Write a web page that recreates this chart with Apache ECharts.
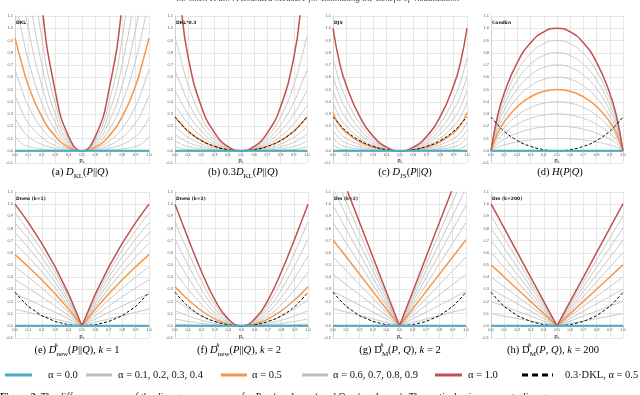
<!DOCTYPE html>
<html>
<head>
<meta charset="utf-8">
<script src="https://cdn.jsdelivr.net/npm/echarts@6/dist/echarts.min.js"></script>
<style>
html, body { margin: 0; padding: 0; background: #fff; }
#main { width: 640px; height: 395px; }
</style>
</head>
<body>
<div id="main"></div>
<script>
// p1 values used for every panel
var p1 = [0, 0.05, 0.1, 0.2, 0.3, 0.4, 0.5, 0.6, 0.7, 0.8, 0.9, 0.95, 1];
var alphas = ['0.0', '0.1', '0.2', '0.3', '0.4', '0.5', '0.6', '0.7', '0.8', '0.9', '1.0'];
var flat = [0, 0, 0, 0, 0, 0, 0, 0, 0, 0, 0, 0, 0];

// 0.3*DKL at alpha = 0.5 (dashed reference)
var refDkl = [0.276, 0.214, 0.159, 0.083, 0.036, 0.009, 0, 0.009, 0.036, 0.083, 0.159, 0.214, 0.276];

// (a) DKL, one row per alpha
var dkl = [
    flat,
    [0.115, 0.062, 0.036, 0.014, 0.005, 0.001, 0, 0.001, 0.005, 0.014, 0.036, 0.062, 0.115],
    [0.271, 0.178, 0.116, 0.052, 0.020, 0.005, 0, 0.005, 0.020, 0.052, 0.116, 0.178, 0.271],
    [0.454, 0.324, 0.226, 0.109, 0.044, 0.011, 0, 0.011, 0.044, 0.109, 0.226, 0.324, 0.454],
    [0.667, 0.501, 0.364, 0.184, 0.077, 0.019, 0, 0.019, 0.077, 0.184, 0.364, 0.501, 0.667],
    [0.919, 0.714, 0.531, 0.278, 0.119, 0.029, 0, 0.029, 0.119, 0.278, 0.531, 0.714, 0.919],
    [1.228, 0.974, 0.736, 0.393, 0.170, 0.042, 0, 0.042, 0.170, 0.393, 0.736, 0.974, 1.228],
    [1.625, 1.303, 0.992, 0.533, 0.231, 0.057, 0, 0.057, 0.231, 0.533, 0.992, 1.303, 1.625],
    [2.180, 1.747, 1.324, 0.704, 0.303, 0.074, 0, 0.074, 0.303, 0.704, 1.324, 1.747, 2.180],
    [3.100, 2.419, 1.786, 0.920, 0.388, 0.094, 0, 0.094, 0.388, 0.920, 1.786, 2.419, 3.100],
    [6.500, 3.823, 2.536, 1.200, 0.489, 0.117, 0, 0.117, 0.489, 1.200, 2.536, 3.823, 6.500]
];

// (b) DKL*0.3
var dkl03 = [
    flat,
    [0.035, 0.019, 0.011, 0.004, 0.002, 0.000, 0, 0.000, 0.002, 0.004, 0.011, 0.019, 0.035],
    [0.081, 0.053, 0.035, 0.016, 0.006, 0.001, 0, 0.001, 0.006, 0.016, 0.035, 0.053, 0.081],
    [0.136, 0.097, 0.068, 0.033, 0.013, 0.003, 0, 0.003, 0.013, 0.033, 0.068, 0.097, 0.136],
    [0.200, 0.150, 0.109, 0.055, 0.023, 0.006, 0, 0.006, 0.023, 0.055, 0.109, 0.150, 0.200],
    [0.276, 0.214, 0.159, 0.083, 0.036, 0.009, 0, 0.009, 0.036, 0.083, 0.159, 0.214, 0.276],
    [0.368, 0.292, 0.221, 0.118, 0.051, 0.013, 0, 0.013, 0.051, 0.118, 0.221, 0.292, 0.368],
    [0.488, 0.391, 0.298, 0.160, 0.069, 0.017, 0, 0.017, 0.069, 0.160, 0.298, 0.391, 0.488],
    [0.654, 0.524, 0.397, 0.211, 0.091, 0.022, 0, 0.022, 0.091, 0.211, 0.397, 0.524, 0.654],
    [0.930, 0.726, 0.536, 0.276, 0.116, 0.028, 0, 0.028, 0.116, 0.276, 0.536, 0.726, 0.930],
    [1.950, 1.147, 0.761, 0.360, 0.147, 0.035, 0, 0.035, 0.147, 0.360, 0.761, 1.147, 1.950]
];

// (c) DJS
var djs = [
    flat,
    [0.052, 0.018, 0.010, 0.004, 0.001, 0.000, 0, 0.000, 0.001, 0.004, 0.010, 0.018, 0.052],
    [0.108, 0.052, 0.032, 0.014, 0.005, 0.001, 0, 0.001, 0.005, 0.014, 0.032, 0.052, 0.108],
    [0.169, 0.096, 0.063, 0.029, 0.011, 0.003, 0, 0.003, 0.011, 0.029, 0.063, 0.096, 0.169],
    [0.236, 0.147, 0.101, 0.049, 0.020, 0.005, 0, 0.005, 0.020, 0.049, 0.101, 0.147, 0.236],
    [0.311, 0.205, 0.147, 0.073, 0.030, 0.007, 0, 0.007, 0.030, 0.073, 0.147, 0.205, 0.311],
    [0.396, 0.273, 0.200, 0.102, 0.043, 0.011, 0, 0.011, 0.043, 0.102, 0.200, 0.273, 0.396],
    [0.493, 0.351, 0.261, 0.137, 0.058, 0.014, 0, 0.014, 0.058, 0.137, 0.261, 0.351, 0.493],
    [0.610, 0.444, 0.334, 0.176, 0.076, 0.019, 0, 0.019, 0.076, 0.176, 0.334, 0.444, 0.610],
    [0.758, 0.559, 0.421, 0.223, 0.096, 0.024, 0, 0.024, 0.096, 0.223, 0.421, 0.559, 0.758],
    [1.000, 0.714, 0.531, 0.278, 0.119, 0.029, 0, 0.029, 0.119, 0.278, 0.531, 0.714, 1.000]
];

// (d) CondEn
var condEn = [
    flat,
    [0, 0.029, 0.047, 0.072, 0.088, 0.097, 0.100, 0.097, 0.088, 0.072, 0.047, 0.029, 0],
    [0, 0.057, 0.094, 0.144, 0.176, 0.194, 0.200, 0.194, 0.176, 0.144, 0.094, 0.057, 0],
    [0, 0.086, 0.141, 0.217, 0.264, 0.291, 0.300, 0.291, 0.264, 0.217, 0.141, 0.086, 0],
    [0, 0.115, 0.188, 0.289, 0.353, 0.388, 0.400, 0.388, 0.353, 0.289, 0.188, 0.115, 0],
    [0, 0.143, 0.235, 0.361, 0.441, 0.486, 0.500, 0.486, 0.441, 0.361, 0.235, 0.143, 0],
    [0, 0.172, 0.281, 0.433, 0.529, 0.583, 0.600, 0.583, 0.529, 0.433, 0.281, 0.172, 0],
    [0, 0.200, 0.328, 0.505, 0.617, 0.680, 0.700, 0.680, 0.617, 0.505, 0.328, 0.200, 0],
    [0, 0.229, 0.375, 0.578, 0.705, 0.777, 0.800, 0.777, 0.705, 0.578, 0.375, 0.229, 0],
    [0, 0.258, 0.422, 0.650, 0.793, 0.874, 0.900, 0.874, 0.793, 0.650, 0.422, 0.258, 0],
    [0, 0.286, 0.469, 0.722, 0.881, 0.971, 1.000, 0.971, 0.881, 0.722, 0.469, 0.286, 0]
];

// (e) Dnew (k=1)
var dnewK1 = [
    flat,
    [0.138, 0.124, 0.111, 0.084, 0.057, 0.029, 0, 0.029, 0.057, 0.084, 0.111, 0.124, 0.138],
    [0.263, 0.239, 0.214, 0.163, 0.111, 0.057, 0, 0.057, 0.111, 0.163, 0.214, 0.239, 0.263],
    [0.379, 0.345, 0.310, 0.239, 0.163, 0.084, 0, 0.084, 0.163, 0.239, 0.310, 0.345, 0.379],
    [0.485, 0.444, 0.401, 0.310, 0.214, 0.111, 0, 0.111, 0.214, 0.310, 0.401, 0.444, 0.485],
    [0.585, 0.536, 0.485, 0.379, 0.263, 0.138, 0, 0.138, 0.263, 0.379, 0.485, 0.536, 0.585],
    [0.678, 0.623, 0.566, 0.444, 0.310, 0.163, 0, 0.163, 0.310, 0.444, 0.566, 0.623, 0.678],
    [0.766, 0.705, 0.642, 0.506, 0.356, 0.189, 0, 0.189, 0.356, 0.506, 0.642, 0.705, 0.766],
    [0.848, 0.782, 0.714, 0.566, 0.401, 0.214, 0, 0.214, 0.401, 0.566, 0.714, 0.782, 0.848],
    [0.926, 0.856, 0.782, 0.623, 0.444, 0.239, 0, 0.239, 0.444, 0.623, 0.782, 0.856, 0.926],
    [1.000, 0.926, 0.848, 0.678, 0.485, 0.263, 0, 0.263, 0.485, 0.678, 0.848, 0.926, 1.000]
];

// (f) Dnew (k=2)
var dnewK2 = [
    flat,
    [0.014, 0.012, 0.009, 0.005, 0.002, 0.001, 0, 0.001, 0.002, 0.005, 0.009, 0.012, 0.014],
    [0.057, 0.046, 0.036, 0.021, 0.009, 0.002, 0, 0.002, 0.009, 0.021, 0.036, 0.046, 0.057],
    [0.124, 0.102, 0.081, 0.046, 0.021, 0.005, 0, 0.005, 0.021, 0.046, 0.081, 0.102, 0.124],
    [0.214, 0.176, 0.141, 0.081, 0.036, 0.009, 0, 0.009, 0.036, 0.081, 0.141, 0.176, 0.214],
    [0.322, 0.266, 0.214, 0.124, 0.057, 0.014, 0, 0.014, 0.057, 0.124, 0.214, 0.266, 0.322],
    [0.444, 0.369, 0.299, 0.176, 0.081, 0.021, 0, 0.021, 0.081, 0.176, 0.299, 0.369, 0.444],
    [0.575, 0.482, 0.394, 0.234, 0.109, 0.028, 0, 0.028, 0.109, 0.234, 0.394, 0.482, 0.575],
    [0.713, 0.603, 0.495, 0.299, 0.141, 0.036, 0, 0.036, 0.141, 0.299, 0.495, 0.603, 0.713],
    [0.856, 0.728, 0.603, 0.369, 0.176, 0.046, 0, 0.046, 0.176, 0.369, 0.603, 0.728, 0.856],
    [1.000, 0.856, 0.714, 0.444, 0.214, 0.057, 0, 0.057, 0.214, 0.444, 0.714, 0.856, 1.000]
];

// (g) Dm (k=2)
var dmK2 = [
    flat,
    [0.141, 0.127, 0.113, 0.085, 0.057, 0.028, 0, 0.028, 0.057, 0.085, 0.113, 0.127, 0.141],
    [0.283, 0.255, 0.226, 0.170, 0.113, 0.057, 0, 0.057, 0.113, 0.170, 0.226, 0.255, 0.283],
    [0.424, 0.382, 0.339, 0.255, 0.170, 0.085, 0, 0.085, 0.170, 0.255, 0.339, 0.382, 0.424],
    [0.566, 0.509, 0.453, 0.339, 0.226, 0.113, 0, 0.113, 0.226, 0.339, 0.453, 0.509, 0.566],
    [0.707, 0.636, 0.566, 0.424, 0.283, 0.141, 0, 0.141, 0.283, 0.424, 0.566, 0.636, 0.707],
    [0.849, 0.764, 0.679, 0.509, 0.339, 0.170, 0, 0.170, 0.339, 0.509, 0.679, 0.764, 0.849],
    [0.990, 0.891, 0.792, 0.594, 0.396, 0.198, 0, 0.198, 0.396, 0.594, 0.792, 0.891, 0.990],
    [1.131, 1.018, 0.905, 0.679, 0.453, 0.226, 0, 0.226, 0.453, 0.679, 0.905, 1.018, 1.131],
    [1.273, 1.146, 1.018, 0.764, 0.509, 0.255, 0, 0.255, 0.509, 0.764, 1.018, 1.146, 1.273],
    [1.414, 1.273, 1.131, 0.849, 0.566, 0.283, 0, 0.283, 0.566, 0.849, 1.131, 1.273, 1.414]
];

// (h) Dm (k=200)
var dmK200 = [
    flat,
    [0.100, 0.090, 0.080, 0.060, 0.040, 0.020, 0, 0.020, 0.040, 0.060, 0.080, 0.090, 0.100],
    [0.201, 0.181, 0.161, 0.120, 0.080, 0.040, 0, 0.040, 0.080, 0.120, 0.161, 0.181, 0.201],
    [0.301, 0.271, 0.241, 0.181, 0.120, 0.060, 0, 0.060, 0.120, 0.181, 0.241, 0.271, 0.301],
    [0.401, 0.361, 0.321, 0.241, 0.161, 0.080, 0, 0.080, 0.161, 0.241, 0.321, 0.361, 0.401],
    [0.502, 0.452, 0.401, 0.301, 0.201, 0.100, 0, 0.100, 0.201, 0.301, 0.401, 0.452, 0.502],
    [0.602, 0.542, 0.482, 0.361, 0.241, 0.120, 0, 0.120, 0.241, 0.361, 0.482, 0.542, 0.602],
    [0.702, 0.632, 0.562, 0.421, 0.281, 0.140, 0, 0.140, 0.281, 0.421, 0.562, 0.632, 0.702],
    [0.803, 0.722, 0.642, 0.482, 0.321, 0.161, 0, 0.161, 0.321, 0.482, 0.642, 0.722, 0.803],
    [0.903, 0.813, 0.722, 0.542, 0.361, 0.181, 0, 0.181, 0.361, 0.542, 0.722, 0.813, 0.903],
    [1.003, 0.903, 0.803, 0.602, 0.401, 0.201, 0, 0.201, 0.401, 0.602, 0.803, 0.903, 1.003]
];

var panelNames = ['DKL', 'DKL*0.3', 'DJS', 'CondEn', 'Dnew (k=1)', 'Dnew (k=2)', 'Dm (k=2)', 'Dm (k=200)'];
var panelData = [dkl, dkl03, djs, condEn, dnewK1, dnewK2, dmK2, dmK200];
var panelSmooth = [true, true, true, true, false, true, false, false];
var panelRef = [false, true, true, true, true, true, true, true];

var captions = [
    '{n|(a) }{i|D}{sb|KL}{n|(}{i|P}{n|||}{i|Q}{n|)}',
    '{n|(b) 0.3}{i|D}{sb|KL}{n|(}{i|P}{n|||}{i|Q}{n|)}',
    '{n|(c) }{i|D}{sb|JS}{n|(}{i|P}{n|||}{i|Q}{n|)}',
    '{n|(d) }{i|H}{n|(}{i|P}{n||}{i|Q}{n|)}',
    '{n|(e) }{i|D}{sp|k}{sb|new}{n|(}{i|P}{n|||}{i|Q}{n|), }{i|k}{n| = 1}',
    '{n|(f) }{i|D}{sp|k}{sb|new}{n|(}{i|P}{n|||}{i|Q}{n|), }{i|k}{n| = 2}',
    '{n|(g) D}{sp|k}{sb|M}{n|(}{i|P}{n|, }{i|Q}{n|), }{i|k}{n| = 2}',
    '{n|(h) D}{sp|k}{sb|M}{n|(}{i|P}{n|, }{i|Q}{n|), }{i|k}{n| = 200}'
];

var legendItems = ['α = 0.0', 'α = 0.1, 0.2, 0.3, 0.4', 'α = 0.5', 'α = 0.6, 0.7, 0.8, 0.9', 'α = 1.0', '0.3·DKL, α = 0.5'];

// layout of the 8 small plots
var lefts = [15, 175, 333, 491, 15, 175, 333, 491];
var widths = [134, 132, 134, 132, 134, 133, 133, 132];
var capX = [80, 243, 405, 560, 77, 239, 400, 553];

var GRAY = '#c8c8c8', ORANGE = '#f79646', RED = '#c0504d', BLUE = '#4bacc6';

function fmt(v) {
    if (Math.abs(v) < 1e-9) v = 0;
    return v.toFixed(1);
}

var grids = [], xAxes = [], yAxes = [], series = [], graphics = [];
var serif = 'Liberation Serif, DejaVu Serif, serif';
var capRich = {
    n: { fontFamily: serif, fontSize: 10.5, color: '#111', lineHeight: 16 },
    i: { fontFamily: serif, fontSize: 10.5, fontStyle: 'italic', color: '#111', lineHeight: 16 },
    sb: { fontFamily: serif, fontSize: 7, color: '#111', lineHeight: 7, verticalAlign: 'bottom' },
    sp: { fontFamily: serif, fontSize: 7, fontStyle: 'italic', color: '#111', lineHeight: 7, verticalAlign: 'top', width: 0.1 }
};

panelData.forEach(function (rows, i) {
    var top = i < 4 ? 16 : 192;
    var h = i < 4 ? 147 : 146;
    grids.push({ left: lefts[i], top: top, width: widths[i], height: h });
    // x axis sits on the zero line, 0.1 units above the bottom of the plot
    xAxes.push({
        gridIndex: i, type: 'value', min: 0, max: 1, interval: 0.1,
        position: 'bottom', offset: -h / 12,
        axisLine: { onZero: false, lineStyle: { color: '#bfbfbf', width: 1 } },
        axisTick: { show: true, length: 2, lineStyle: { color: '#bfbfbf' } },
        axisLabel: { fontSize: 4, color: '#595959', margin: 2, formatter: fmt },
        splitLine: { lineStyle: { color: '#e6e6e6', width: 1 } },
        name: 'P₁', nameLocation: 'middle', nameGap: 9,
        nameTextStyle: { fontSize: 4.5, fontWeight: 'bold', color: '#404040' }
    });
    yAxes.push({
        gridIndex: i, type: 'value', min: -0.1, max: 1.1, interval: 0.1,
        axisLine: { show: true, onZero: false, lineStyle: { color: '#d0d0d0', width: 1 } },
        axisTick: { show: false },
        axisLabel: { fontSize: 4, color: '#595959', margin: 2, formatter: fmt },
        splitLine: { lineStyle: { color: '#e6e6e6', width: 1 } }
    });

    function addLine(vals, color, width, dash) {
        series.push({
            type: 'line', xAxisIndex: i, yAxisIndex: i,
            data: p1.map(function (x, j) { return [x, vals[j]]; }),
            symbol: 'none', smooth: panelSmooth[i], clip: true, silent: true,
            lineStyle: { color: color, width: width, type: dash ? [3, 2] : 'solid' }
        });
    }
    [1, 2, 3, 4, 6, 7, 8, 9].forEach(function (a) { addLine(rows[a], GRAY, 1); });
    addLine(rows[5], ORANGE, 1.5);
    addLine(rows[10], RED, 1.5);
    if (panelRef[i]) addLine(refDkl, '#000', 1, true);
    addLine(rows[0], BLUE, 2);

    graphics.push({
        type: 'text', left: lefts[i] + 1, top: top + 4.5, z: 10,
        style: { text: panelNames[i], fontSize: 4.5, fontWeight: 'bold', fill: '#262626', fontFamily: 'DejaVu Sans' }
    });
    graphics.push({
        type: 'text', x: capX[i], y: i < 4 ? 172 : 350, z: 10,
        style: { text: captions[i], rich: capRich, align: 'center', verticalAlign: 'middle' }
    });
});

// legend row
var legY = 375;
var legLines = [[5, 32, BLUE, false], [86, 112, '#bfbfbf', false], [221, 247, ORANGE, false],
    [302, 328, '#bfbfbf', false], [435, 462, RED, false], [522, 553, '#000', true]];
var legTextX = [48, 118, 252, 333, 468, 565];
legLines.forEach(function (l, k) {
    graphics.push({
        type: 'line', shape: { x1: l[0], y1: legY, x2: l[1], y2: legY },
        style: { stroke: l[2], lineWidth: 3, lineDash: l[3] ? [6, 4] : null }
    });
    graphics.push({
        type: 'text', x: legTextX[k], y: legY,
        style: { text: legendItems[k], fontFamily: serif, fontSize: 10.5, fill: '#111', verticalAlign: 'middle' }
    });
});

// page header and figure caption, cut by the picture edges
graphics.push({
    type: 'text', x: 318, y: 3.5,
    style: { text: 'M. Chen et al.: A Bounded Measure for Estimating the Benefit of Visualization', fontFamily: serif,
        fontSize: 9, fontStyle: 'italic', fill: '#444', align: 'center', verticalAlign: 'bottom' }
});
graphics.push({
    type: 'text', x: 0, y: 392.5,
    style: { text: '{b|Figure 2.} The difference curves of the divergence measures for P = {p₁, 1 − p₁} and Q = {q₁, 1 − q₁}. The vertical axis represents divergence.',
        rich: { b: { fontWeight: 'bold', fontFamily: serif, fontSize: 10 } },
        fontFamily: serif, fontSize: 10, fill: '#111', verticalAlign: 'top' }
});

var myChart = echarts.init(document.getElementById('main'));
myChart.setOption({
    animation: false,
    grid: grids,
    xAxis: xAxes,
    yAxis: yAxes,
    series: series,
    graphic: graphics
});
</script>
</body>
</html>
